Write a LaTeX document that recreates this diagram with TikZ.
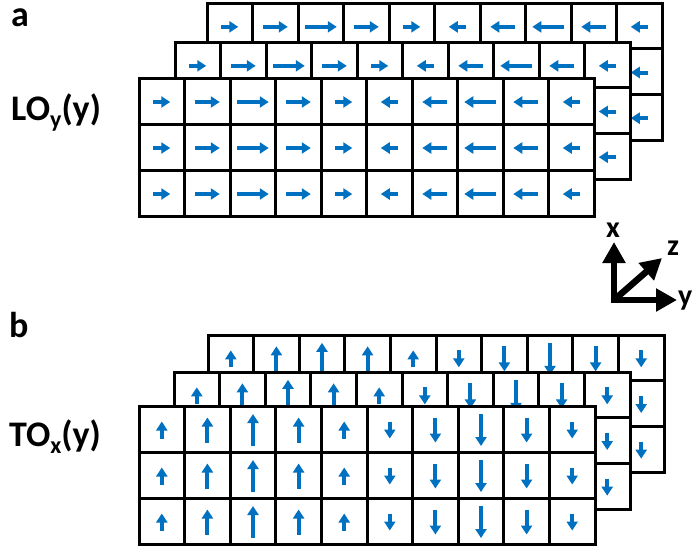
\documentclass[tikz,border=0pt]{standalone}
\usepackage{fontspec}
\setmainfont{Carlito}
\usetikzlibrary{arrows.meta}
\definecolor{arrblue}{HTML}{0070C0}
\tikzset{
  gridline/.style={draw=black, line width=3pt, line join=miter, line cap=rect},
  spin/.style={arrblue, line width=4pt, -{Triangle[width=11pt,length=9pt]}},
  axisarrow/.style={black, line width=6.5pt, -{Triangle[width=22pt,length=21pt]}},
  lbl/.style={font=\fontsize{36}{40}\selectfont\bfseries, inner sep=0pt},
  axlbl/.style={font=\fontsize{30}{34}\selectfont\bfseries, inner sep=0pt}
}
% #1=x0, #2=y0, #3=w, #4=h
\newcommand\hlayer[4]{%
  \fill[white] (#1,#2) rectangle ++(#3,#4);
  \foreach \i in {1,...,9} \draw[gridline] ({#1+\i*#3/10},#2) -- ++(0,#4);
  \foreach \j in {1,2} \draw[gridline] (#1,{#2+\j*#4/3}) -- ++(#3,0);
  \draw[gridline] (#1,#2) rectangle ++(#3,#4);
  \foreach \i/\m in {0/17,1/25,2/32,3/25,4/17,5/-17,6/-25,7/-32,8/-25,9/-17}
    \foreach \j in {0,1,2}
      \draw[spin] ({#1+(\i+0.5)*#3/10-0.5*(\m)},{#2+(\j+0.5)*#4/3+1}) -- ++(\m,0);
}
\newcommand\vlayer[4]{%
  \fill[white] (#1,#2) rectangle ++(#3,#4);
  \foreach \i in {1,...,9} \draw[gridline] ({#1+\i*#3/10},#2) -- ++(0,#4);
  \foreach \j in {1,2} \draw[gridline] (#1,{#2+\j*#4/3}) -- ++(#3,0);
  \draw[gridline] (#1,#2) rectangle ++(#3,#4);
  \foreach \i/\m in {0/17,1/25,2/32,3/25,4/17,5/-17,6/-25,7/-32,8/-25,9/-17}
    \foreach \j in {0,1,2}
      \draw[spin] ({#1+(\i+0.5)*#3/10},{#2+(\j+0.5)*#4/3+1+0.5*(\m)}) -- ++(0,{-1*(\m)});
}
\begin{document}
\begin{tikzpicture}[x=1pt,y=-1pt]
\useasboundingbox (0,0) rectangle (692,550);
% panel a
\hlayer{207}{3}{455}{137}
\hlayer{175}{42}{455}{137}
\hlayer{139}{78}{455}{138}
% panel b
\vlayer{208}{335}{456}{137}
\vlayer{174}{372}{456}{137}
\vlayer{139}{406}{456}{138}
% labels
\node[lbl, anchor=base west] (la) at (11,26) {a};
\node[lbl, anchor=base west] (lLO) at (11,120) {LO\raisebox{-0.22em}{\fontsize{24}{24}\selectfont y}(y)};
\node[lbl, anchor=base west] (lb) at (9,337) {b};
\node[lbl, anchor=base west] (lTO) at (9,446) {TO\raisebox{-0.22em}{\fontsize{24}{24}\selectfont x}(y)};
% axes
\coordinate (O) at (614,300);
\coordinate (xt) at (614,242);
\coordinate (yt) at (677,300);
\coordinate (zt) at (662,258);
\draw[axisarrow, line cap=rect] (O) -- (xt);
\draw[axisarrow, line cap=rect] (O) -- (yt);
\draw[axisarrow] (O) -- (zt);
\node[axlbl, anchor=base] (lx) at (613,237) {x};
\node[axlbl, anchor=base] (lz) at (673,255) {z};
\node[axlbl, anchor=base west] (ly) at (678,305) {y};
\end{tikzpicture}
\end{document}
